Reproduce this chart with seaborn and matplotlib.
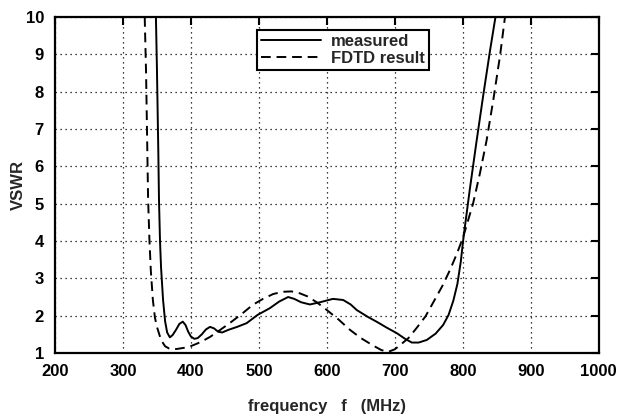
import matplotlib
matplotlib.use("Agg")
import pandas as pd
import seaborn as sns
import matplotlib.pyplot as plt

# === Values ===
meas_f = [348.5, 350, 352, 353, 354.5, 356, 359, 362, 365, 369, 373, 378, 383, 388,
          392, 396, 400, 405, 410, 416, 422, 428, 434, 440, 446, 455, 468, 482,
          498, 516, 530, 543, 552, 562, 575, 590, 609, 624, 635, 644, 660, 673,
          688, 703, 715, 725, 735, 747, 760, 771, 779, 786, 792, 797, 801, 810, 820,
          830, 840, 848]
meas_vswr = [10.0, 8.6, 6.4, 5.1, 4.0, 3.3, 2.42, 1.85, 1.55, 1.42, 1.48, 1.62, 1.78, 1.84,
             1.75, 1.57, 1.44, 1.38, 1.40, 1.50, 1.63, 1.70, 1.66, 1.57, 1.55, 1.62, 1.70, 1.80,
             2.02, 2.20, 2.38, 2.50, 2.45, 2.36, 2.30, 2.36, 2.45, 2.42, 2.30, 2.15, 1.97, 1.84,
             1.68, 1.53, 1.38, 1.28, 1.28, 1.35, 1.52, 1.75, 2.02, 2.40, 2.85, 3.45, 4.10, 5.35, 6.65,
             7.90, 9.10, 10.0]

fdtd_f = [332, 334, 337, 339, 341, 344, 347, 350, 356, 362, 368, 374, 380, 390, 398,
          410, 420, 428, 440, 457, 475, 491, 506, 521, 535, 548, 560, 571, 585,
          600, 617, 634, 650, 668, 680, 690, 700, 707, 720, 732, 745, 756, 770,
          781, 791, 800, 815, 825, 835, 845, 855, 862]
fdtd_vswr = [10.0, 8.5, 5.1, 4.0, 3.2, 2.42, 1.95, 1.70, 1.35, 1.18, 1.12, 1.10, 1.11, 1.14, 1.17,
             1.26, 1.35, 1.43, 1.58, 1.80, 2.05, 2.29, 2.45, 2.58, 2.64, 2.65, 2.60, 2.52, 2.36,
             2.15, 1.90, 1.62, 1.40, 1.20, 1.08, 1.03, 1.10, 1.20, 1.40, 1.67, 1.98, 2.34, 2.80,
             3.22, 3.65, 4.08, 5.00, 5.80, 6.70, 7.80, 9.00, 10.0]

x_ticks = [200, 300, 400, 500, 600, 700, 800, 900, 1000]
y_ticks = [1, 2, 3, 4, 5, 6, 7, 8, 9, 10]

measured = pd.DataFrame({"f": meas_f, "vswr": meas_vswr})
fdtd = pd.DataFrame({"f": fdtd_f, "vswr": fdtd_vswr})

# === Style ===
sns.set_style("white")
plt.rcParams["font.family"] = ["Liberation Sans", "DejaVu Sans"]
plt.rcParams["font.size"] = 12
plt.rcParams["font.weight"] = "bold"

fig = plt.figure(figsize=(6.27, 4.2), dpi=100)
ax = fig.add_axes([0.0877, 0.1595, 0.8673, 0.8000])

sns.lineplot(data=measured, x="f", y="vswr", ax=ax, color="black", lw=1.4,
             sort=False, estimator=None, label="measured")
sns.lineplot(data=fdtd, x="f", y="vswr", ax=ax, color="black", lw=1.4,
             sort=False, estimator=None, label="FDTD result", dashes=False)
ax.lines[1].set_dashes((5, 3))

ax.set_xlim(200, 1000)
ax.set_ylim(1, 10)
ax.set_xticks(x_ticks)
ax.set_yticks(y_ticks)
ax.tick_params(direction="in", length=6, width=1.5, top=True, right=True,
               labelsize=12, colors="black")
ax.tick_params(axis="x", pad=8)
ax.tick_params(axis="y", pad=8)
ax.grid(True, color="black", linestyle=(0, (1, 3)), linewidth=0.9)
for s in ax.spines.values():
    s.set_color("black")
    s.set_linewidth(1.6)

ax.set_xlabel("frequency   f   (MHz)", fontsize=12, fontweight="bold", labelpad=14)
ax.set_ylabel("VSWR", fontsize=12, fontweight="bold", labelpad=0)

leg = ax.legend(loc="upper center", bbox_to_anchor=(0.53, 0.962), frameon=True,
                fancybox=False, edgecolor="black", framealpha=1,
                prop={"size": 12, "weight": "bold"},
                handlelength=3.6, borderpad=0.25, labelspacing=0.1,
                handletextpad=0.6, borderaxespad=0)
leg.get_frame().set_linewidth(1.5)

plt.savefig("out.png", dpi=100)
